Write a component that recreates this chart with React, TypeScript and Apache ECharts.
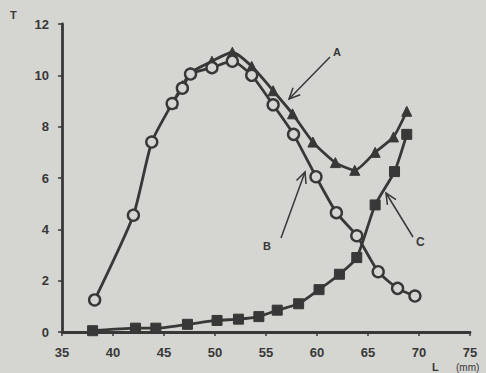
import React, { useEffect, useRef } from "react";
import * as echarts from "echarts";

const xTicks = [35, 40, 45, 50, 55, 60, 65, 70, 75];
const yTicks = [0, 2, 4, 6, 8, 10, 12];

const seriesA_x = [45.8, 46.8, 47.6, 49.7, 51.7, 53.6, 55.7, 57.6, 59.6, 61.8, 63.7, 65.7, 67.5, 68.8];
const seriesA_y = [8.9, 9.6, 10.1, 10.55, 10.9, 10.35, 9.4, 8.5, 7.4, 6.6, 6.3, 7.0, 7.6, 8.6];

const seriesB_x = [38.2, 42.0, 43.8, 45.8, 46.8, 47.6, 49.7, 51.7, 53.6, 55.7, 57.7, 59.9, 61.9, 63.9, 66.0, 67.9, 69.6];
const seriesB_y = [1.25, 4.55, 7.4, 8.9, 9.5, 10.05, 10.3, 10.55, 10.0, 8.85, 7.7, 6.05, 4.65, 3.75, 2.35, 1.7, 1.4];

const seriesC_x = [38.0, 42.2, 44.2, 47.3, 50.2, 52.3, 54.3, 56.1, 58.2, 60.2, 62.2, 63.9, 65.7, 67.6, 68.8];
const seriesC_y = [0.05, 0.15, 0.15, 0.3, 0.45, 0.5, 0.6, 0.85, 1.1, 1.65, 2.25, 2.9, 4.95, 6.25, 7.7];

const INK = "#383838";
const PAPER = "#d5d5d1";
const FONT = "Liberation Sans, Arial, sans-serif";

function pairs(xs: number[], ys: number[]) {
  return xs.map((x, i) => [x, ys[i]]);
}

function arrow(x1: number, y1: number, x2: number, y2: number) {
  const dx = x1 - x2;
  const dy = y1 - y2;
  const len = Math.sqrt(dx * dx + dy * dy);
  const bx = dx / len;
  const by = dy / len;
  const a = (25 * Math.PI) / 180;
  const c = Math.cos(a);
  const s = Math.sin(a);
  const L = 12;
  const w1 = [x2 + L * (bx * c - by * s), y2 + L * (bx * s + by * c)];
  const w2 = [x2 + L * (bx * c + by * s), y2 + L * (-bx * s + by * c)];
  return [
    { type: "line", shape: { x1, y1, x2, y2 }, style: { stroke: INK, lineWidth: 1.5 } },
    { type: "polyline", shape: { points: [w1, [x2, y2], w2] }, style: { stroke: INK, lineWidth: 1.5, fill: null } },
  ];
}

export default function App() {
  const ref = useRef<HTMLDivElement>(null);
  useEffect(() => {
    if (!ref.current) return;
    const chart = echarts.init(ref.current, undefined, { renderer: "svg" });
    const labelStyle = { color: "#383838", fontWeight: "bold" as const, fontSize: 13, fontFamily: FONT };
    const lineCommon = { smooth: 0.2, lineStyle: { color: INK, width: 2.8 } };
    chart.setOption({
      animation: false,
      backgroundColor: PAPER,
      grid: { left: 62, right: 16, top: 24, bottom: 41 },
      xAxis: {
        type: "value",
        min: xTicks[0],
        max: xTicks[xTicks.length - 1],
        interval: 5,
        splitLine: { show: false },
        axisLine: { show: true, lineStyle: { color: INK, width: 2.8 } },
        axisTick: { show: true, length: 4, lineStyle: { color: INK, width: 1.5 } },
        axisLabel: { ...labelStyle, margin: 14 },
      },
      yAxis: {
        type: "value",
        min: yTicks[0],
        max: yTicks[yTicks.length - 1],
        interval: 2,
        splitLine: { show: false },
        axisLine: { show: true, lineStyle: { color: INK, width: 2.8 } },
        axisTick: { show: true, length: 4, lineStyle: { color: INK, width: 1.5 } },
        axisLabel: { ...labelStyle, margin: 13 },
      },
      series: [
        {
          name: "C",
          type: "line",
          data: pairs(seriesC_x, seriesC_y),
          symbol: "rect",
          symbolSize: 10,
          ...lineCommon,
          itemStyle: { color: INK, borderColor: INK },
        },
        {
          name: "A",
          type: "line",
          data: pairs(seriesA_x, seriesA_y),
          symbol: "triangle",
          symbolSize: 10,
          ...lineCommon,
          itemStyle: { color: INK, borderColor: INK },
        },
        {
          name: "B",
          type: "line",
          data: pairs(seriesB_x, seriesB_y),
          symbol: "circle",
          symbolSize: 11,
          ...lineCommon,
          itemStyle: { color: PAPER, borderColor: INK, borderWidth: 2.4 },
        },
      ],
      graphic: [
        { type: "text", left: 10, top: 9, style: { text: "T", fill: INK, font: `bold 11px ${FONT}` } },
        { type: "text", left: 432, top: 361, style: { text: "L", fill: INK, font: `bold 11px ${FONT}` } },
        { type: "text", left: 456, top: 362, style: { text: "(mm)", fill: INK, font: `10px ${FONT}` } },
        { type: "text", left: 333, top: 46, style: { text: "A", fill: INK, font: `bold 11px ${FONT}` } },
        { type: "text", left: 263, top: 240, style: { text: "B", fill: INK, font: `bold 11px ${FONT}` } },
        { type: "text", left: 416, top: 236, style: { text: "C", fill: INK, font: `bold 12px ${FONT}` } },
        ...arrow(330, 57, 289, 99),
        ...arrow(281, 238, 305, 172),
        ...arrow(413, 237, 386, 193),
      ],
    });
    return () => chart.dispose();
  }, []);
  return <div ref={ref} style={{ position: "fixed", left: 0, top: 0, width: 486, height: 373 }} />;
}
